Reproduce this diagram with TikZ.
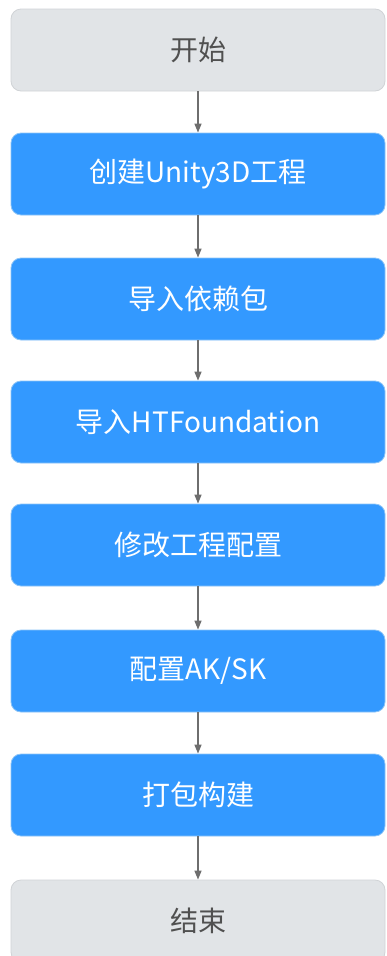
\documentclass[tikz,border=0pt]{standalone}
\usepackage{fontspec}
\setmainfont{Noto Sans CJK SC}
\usepackage{tikz}
\usetikzlibrary{arrows.meta}
\definecolor{stepblue}{HTML}{3399FF}
\definecolor{stepedge}{HTML}{8CC4F7}
\definecolor{endgray}{HTML}{E1E4E7}
\definecolor{endedge}{HTML}{D0D3D6}
\definecolor{arrowgray}{HTML}{6E6E6E}
\definecolor{labelgray}{HTML}{505050}

\begin{document}
\begin{tikzpicture}[x=1pt, y=-1pt,
    stepbox/.style={draw=stepedge, line width=0.8pt, fill=stepblue, text=white, rounded corners=10pt,
      minimum width=374pt, minimum height=82pt, font=\fontsize{28}{32}\selectfont},
    endbox/.style={stepbox, draw=endedge, fill=endgray, text=labelgray},
    flow/.style={draw=arrowgray, line width=1.5pt, -{Triangle[length=9pt, width=7pt]}}]
  \clip (0, 0) rectangle (386, 956);
  \useasboundingbox (0, 0) rectangle (386, 956);

  \node[endbox] (start) at (198, 50) {开始};
  \node[stepbox] (create) at (198, 174) {创建Unity3D工程};
  \node[stepbox] (deps) at (198, 299) {导入依赖包};
  \node[stepbox] (htf) at (198, 422) {导入HTFoundation};
  \node[stepbox] (config) at (198, 545) {修改工程配置};
  \node[stepbox] (aksk) at (198, 671) {配置AK/SK};
  \node[stepbox] (build) at (198, 795) {打包构建};
  \node[endbox] (finish) at (198, 921) {结束};

  \draw[flow] (start) -- (create);
  \draw[flow] (create) -- (deps);
  \draw[flow] (deps) -- (htf);
  \draw[flow] (htf) -- (config);
  \draw[flow] (config) -- (aksk);
  \draw[flow] (aksk) -- (build);
  \draw[flow] (build) -- (finish);
\end{tikzpicture}
\end{document}
